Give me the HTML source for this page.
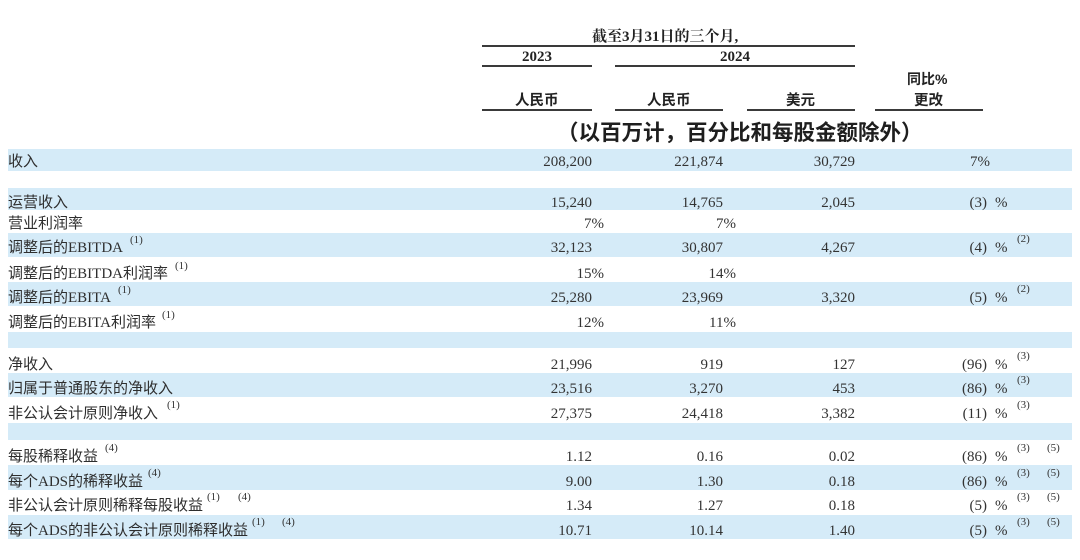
<!DOCTYPE html>
<html>
<head>
<meta charset="utf-8">
<style>
  html,body{margin:0;padding:0;}
  body{width:1080px;height:560px;background:#ffffff;position:relative;overflow:hidden;
       font-family:"Liberation Serif","Noto Sans CJK SC",serif;color:#2b2b2b;}
  .band{position:absolute;left:8px;width:1064px;background:#d5ebf8;}
  .t{position:absolute;white-space:nowrap;font-size:15px;line-height:20px;}
  .lbl{font-family:"Liberation Serif","Noto Sans CJK SC",sans-serif;color:#2e2e2e;}
  .num{font-family:"Liberation Serif",serif;color:#333;}
  .sup{position:absolute;white-space:nowrap;font-family:"Liberation Serif",serif;font-size:11px;line-height:14px;color:#333;}
  .ln{position:absolute;height:2px;background:#3a3a3a;}
  .hd{position:absolute;white-space:nowrap;font-weight:bold;color:#222;}
</style>
</head>
<body>

<!-- bands -->
<div class="band" style="top:149px;height:22px;"></div>
<div class="band" style="top:188px;height:22px;"></div>
<div class="band" style="top:233px;height:24px;"></div>
<div class="band" style="top:282px;height:24px;"></div>
<div class="band" style="top:332px;height:16px;"></div>
<div class="band" style="top:373px;height:24px;"></div>
<div class="band" style="top:423px;height:17px;"></div>
<div class="band" style="top:465px;height:25px;"></div>
<div class="band" style="top:515px;height:24px;"></div>

<!-- header -->
<div class="hd" style="left:592px;top:27px;font-size:15px;line-height:20px;font-family:'Liberation Serif','Noto Serif CJK SC',serif;">截至3月31日的三个月,</div>
<div class="ln" style="left:482px;top:45px;width:373px;"></div>
<div class="hd" style="left:522px;top:47px;font-size:15px;line-height:20px;font-family:'Liberation Serif',serif;">2023</div>
<div class="hd" style="left:720px;top:47px;font-size:15px;line-height:20px;font-family:'Liberation Serif',serif;">2024</div>
<div class="ln" style="left:482px;top:65px;width:110px;"></div>
<div class="ln" style="left:615px;top:65px;width:240px;"></div>

<div class="hd" style="left:907px;top:69px;font-size:14px;line-height:20px;font-family:'Liberation Sans','Noto Sans CJK SC',sans-serif;">同比%</div>
<div class="hd" style="left:515px;top:91px;font-size:14.5px;line-height:20px;font-family:'Liberation Sans','Noto Sans CJK SC',sans-serif;">人民币</div>
<div class="hd" style="left:647px;top:91px;font-size:14.5px;line-height:20px;font-family:'Liberation Sans','Noto Sans CJK SC',sans-serif;">人民币</div>
<div class="hd" style="left:786px;top:91px;font-size:14.5px;line-height:20px;font-family:'Liberation Sans','Noto Sans CJK SC',sans-serif;">美元</div>
<div class="hd" style="left:914px;top:91px;font-size:14.5px;line-height:20px;font-family:'Liberation Sans','Noto Sans CJK SC',sans-serif;">更改</div>
<div class="ln" style="left:482px;top:109px;width:110px;"></div>
<div class="ln" style="left:615px;top:109px;width:108px;"></div>
<div class="ln" style="left:747px;top:109px;width:108px;"></div>
<div class="ln" style="left:875px;top:109px;width:108px;"></div>

<div class="hd" style="left:557px;top:118px;font-size:21.5px;line-height:30px;font-family:'Liberation Sans','Noto Sans CJK SC',sans-serif;color:#1e1e1e;">（以百万计，百分比和每股金额除外）</div>

<!-- Row 1: 收入 (center 162) -->
<div class="t lbl" style="left:8px;top:152px;">收入</div>
<div class="t num" style="right:488px;top:152px;">208,200</div>
<div class="t num" style="right:357px;top:152px;">221,874</div>
<div class="t num" style="right:225px;top:152px;">30,729</div>
<div class="t num" style="right:90px;top:152px;">7%</div>

<!-- Row 2: 运营收入 (203) -->
<div class="t lbl" style="left:8px;top:193px;">运营收入</div>
<div class="t num" style="right:488px;top:193px;">15,240</div>
<div class="t num" style="right:357px;top:193px;">14,765</div>
<div class="t num" style="right:225px;top:193px;">2,045</div>
<div class="t num" style="right:93px;top:193px;">(3)</div>
<div class="t num" style="left:995px;top:193px;">%</div>

<!-- Row 3: 营业利润率 (224) -->
<div class="t lbl" style="left:8px;top:214px;">营业利润率</div>
<div class="t num" style="right:476px;top:214px;">7%</div>
<div class="t num" style="right:344px;top:214px;">7%</div>

<!-- Row 4: EBITDA (248) -->
<div class="t lbl" style="left:8px;top:238px;">调整后的EBITDA</div>
<div class="sup" style="left:130px;top:233px;">(1)</div>
<div class="t num" style="right:488px;top:238px;">32,123</div>
<div class="t num" style="right:357px;top:238px;">30,807</div>
<div class="t num" style="right:225px;top:238px;">4,267</div>
<div class="t num" style="right:93px;top:238px;">(4)</div>
<div class="t num" style="left:995px;top:238px;">%</div>
<div class="sup" style="left:1017px;top:232px;">(2)</div>

<!-- Row 5: EBITDA利润率 (274) -->
<div class="t lbl" style="left:8px;top:264px;">调整后的EBITDA利润率</div>
<div class="sup" style="left:175px;top:259px;">(1)</div>
<div class="t num" style="right:476px;top:264px;">15%</div>
<div class="t num" style="right:344px;top:264px;">14%</div>

<!-- Row 6: EBITA (298) -->
<div class="t lbl" style="left:8px;top:288px;">调整后的EBITA</div>
<div class="sup" style="left:118px;top:283px;">(1)</div>
<div class="t num" style="right:488px;top:288px;">25,280</div>
<div class="t num" style="right:357px;top:288px;">23,969</div>
<div class="t num" style="right:225px;top:288px;">3,320</div>
<div class="t num" style="right:93px;top:288px;">(5)</div>
<div class="t num" style="left:995px;top:288px;">%</div>
<div class="sup" style="left:1017px;top:282px;">(2)</div>

<!-- Row 7: EBITA利润率 (323) -->
<div class="t lbl" style="left:8px;top:313px;">调整后的EBITA利润率</div>
<div class="sup" style="left:162px;top:308px;">(1)</div>
<div class="t num" style="right:476px;top:313px;">12%</div>
<div class="t num" style="right:344px;top:313px;">11%</div>

<!-- Row 8: 净收入 (365) -->
<div class="t lbl" style="left:8px;top:355px;">净收入</div>
<div class="t num" style="right:488px;top:355px;">21,996</div>
<div class="t num" style="right:357px;top:355px;">919</div>
<div class="t num" style="right:225px;top:355px;">127</div>
<div class="t num" style="right:93px;top:355px;">(96)</div>
<div class="t num" style="left:995px;top:355px;">%</div>
<div class="sup" style="left:1017px;top:349px;">(3)</div>

<!-- Row 9: 归属 (389) -->
<div class="t lbl" style="left:8px;top:379px;">归属于普通股东的净收入</div>
<div class="t num" style="right:488px;top:379px;">23,516</div>
<div class="t num" style="right:357px;top:379px;">3,270</div>
<div class="t num" style="right:225px;top:379px;">453</div>
<div class="t num" style="right:93px;top:379px;">(86)</div>
<div class="t num" style="left:995px;top:379px;">%</div>
<div class="sup" style="left:1017px;top:373px;">(3)</div>

<!-- Row 10: 非公认净收入 (414) -->
<div class="t lbl" style="left:8px;top:404px;">非公认会计原则净收入</div>
<div class="sup" style="left:167px;top:398px;">(1)</div>
<div class="t num" style="right:488px;top:404px;">27,375</div>
<div class="t num" style="right:357px;top:404px;">24,418</div>
<div class="t num" style="right:225px;top:404px;">3,382</div>
<div class="t num" style="right:93px;top:404px;">(11)</div>
<div class="t num" style="left:995px;top:404px;">%</div>
<div class="sup" style="left:1017px;top:398px;">(3)</div>

<!-- Row 11: 每股稀释收益 (457) -->
<div class="t lbl" style="left:8px;top:447px;">每股稀释收益</div>
<div class="sup" style="left:105px;top:441px;">(4)</div>
<div class="t num" style="right:488px;top:447px;">1.12</div>
<div class="t num" style="right:357px;top:447px;">0.16</div>
<div class="t num" style="right:225px;top:447px;">0.02</div>
<div class="t num" style="right:93px;top:447px;">(86)</div>
<div class="t num" style="left:995px;top:447px;">%</div>
<div class="sup" style="left:1017px;top:441px;">(3)</div>
<div class="sup" style="left:1047px;top:441px;">(5)</div>

<!-- Row 12: 每个ADS的稀释收益 (482) -->
<div class="t lbl" style="left:8px;top:472px;">每个ADS的稀释收益</div>
<div class="sup" style="left:148px;top:466px;">(4)</div>
<div class="t num" style="right:488px;top:472px;">9.00</div>
<div class="t num" style="right:357px;top:472px;">1.30</div>
<div class="t num" style="right:225px;top:472px;">0.18</div>
<div class="t num" style="right:93px;top:472px;">(86)</div>
<div class="t num" style="left:995px;top:472px;">%</div>
<div class="sup" style="left:1017px;top:466px;">(3)</div>
<div class="sup" style="left:1047px;top:466px;">(5)</div>

<!-- Row 13: 非公认稀释每股收益 (506) -->
<div class="t lbl" style="left:8px;top:496px;">非公认会计原则稀释每股收益</div>
<div class="sup" style="left:207px;top:490px;">(1)</div>
<div class="sup" style="left:238px;top:490px;">(4)</div>
<div class="t num" style="right:488px;top:496px;">1.34</div>
<div class="t num" style="right:357px;top:496px;">1.27</div>
<div class="t num" style="right:225px;top:496px;">0.18</div>
<div class="t num" style="right:93px;top:496px;">(5)</div>
<div class="t num" style="left:995px;top:496px;">%</div>
<div class="sup" style="left:1017px;top:490px;">(3)</div>
<div class="sup" style="left:1047px;top:490px;">(5)</div>

<!-- Row 14: 每个ADS的非公认 (531) -->
<div class="t lbl" style="left:8px;top:521px;">每个ADS的非公认会计原则稀释收益</div>
<div class="sup" style="left:252px;top:515px;">(1)</div>
<div class="sup" style="left:282px;top:515px;">(4)</div>
<div class="t num" style="right:488px;top:521px;">10.71</div>
<div class="t num" style="right:357px;top:521px;">10.14</div>
<div class="t num" style="right:225px;top:521px;">1.40</div>
<div class="t num" style="right:93px;top:521px;">(5)</div>
<div class="t num" style="left:995px;top:521px;">%</div>
<div class="sup" style="left:1017px;top:515px;">(3)</div>
<div class="sup" style="left:1047px;top:515px;">(5)</div>

</body>
</html>
